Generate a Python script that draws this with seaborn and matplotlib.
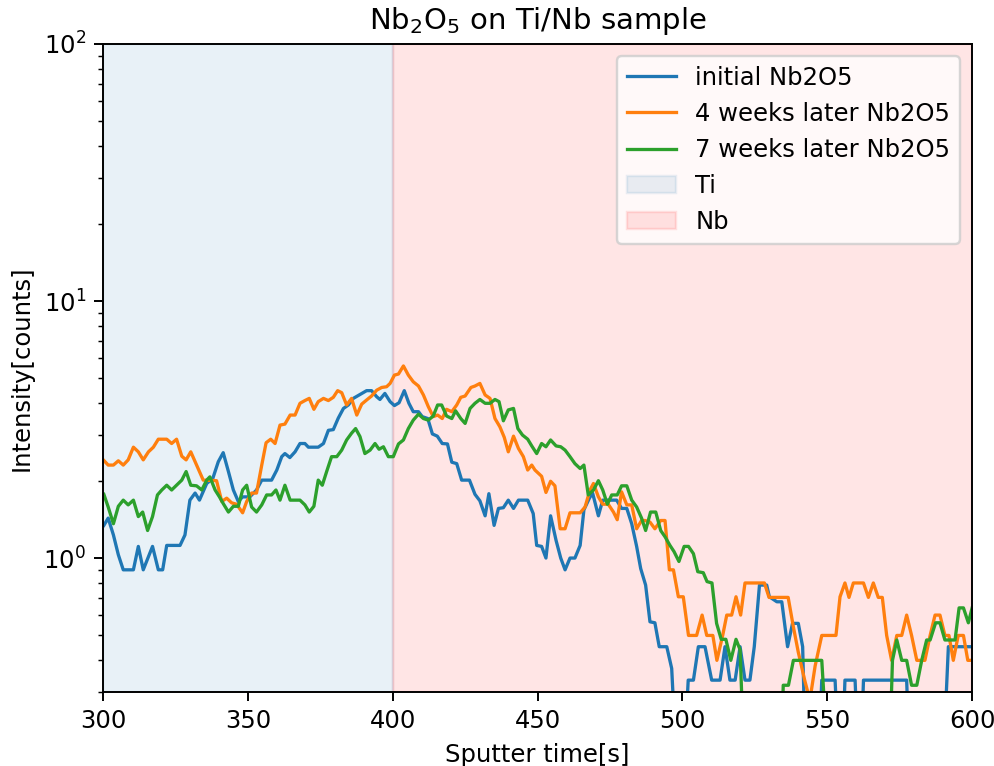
import numpy as np
import pandas as pd
import matplotlib
matplotlib.use("Agg")
import matplotlib.pyplot as plt
import seaborn as sns

# ---------------- data ----------------
series_names = ["initial Nb2O5", "4 weeks later Nb2O5", "7 weeks later Nb2O5"]
region_labels = ["Ti", "Nb"]
region_edges = [300, 400, 600]

initial_t = [300.3, 301.8, 303.6, 305.3, 307.0, 310.5, 312.2, 313.9, 317.1, 319.1, 320.6, 322.0,
             326.6, 328.3, 330.0, 331.8, 333.3, 335.8, 337.9, 339.8, 341.5, 343.3, 345.0, 346.7,
             348.2, 350.7, 353.0, 354.8, 358.2, 360.0, 361.7, 362.8, 364.5, 366.3, 368.0, 369.7,
             370.9, 374.3, 376.1, 377.8, 379.5, 381.2, 383.0, 384.7, 386.4, 391.0, 392.7, 394.5,
             395.6, 397.3, 399.1, 400.6, 402.2, 404.0, 405.6, 407.1, 408.9, 410.2, 412.1, 413.7,
             415.4, 417.1, 418.9, 420.4, 422.1, 423.8, 426.5, 428.4, 430.1, 431.9, 433.2, 435.0,
             436.5, 438.2, 439.9, 441.7, 443.4, 446.6, 448.5, 449.7, 451.4, 452.9, 454.5, 456.4,
             458.0, 459.5, 461.2, 462.9, 464.7, 466.0, 467.9, 469.0, 471.0, 472.5, 477.3, 479.0,
             480.8, 482.5, 484.2, 485.6, 487.3, 488.8, 490.5, 492.0, 494.6, 496.3, 497.5, 501.0,
             502.0, 503.8, 505.5, 507.8, 510.1, 513.0, 514.7, 516.4, 518.2, 519.9, 521.6, 523.3,
             524.8, 526.6, 529.1, 530.0, 532.6, 534.3, 536.3, 538.0, 540.0, 541.5, 542.3, 547.3,
             548.1, 552.7, 553.6, 555.4, 556.1, 559.6, 560.4, 561.8, 562.5, 577.4, 578.1, 590.4,
             591.8, 600.0]
initial_v = [1.34, 1.43, 1.23, 1.03, 0.90, 0.90, 1.11, 0.90, 1.11, 0.90, 0.90, 1.12,
             1.12, 1.23, 1.68, 1.79, 1.68, 1.95, 2.04, 2.37, 2.57, 2.17, 1.84, 1.66,
             1.73, 1.73, 1.84, 2.01, 2.01, 2.20, 2.48, 2.55, 2.46, 2.59, 2.79, 2.79,
             2.70, 2.70, 2.79, 3.14, 3.16, 3.50, 3.82, 3.94, 4.18, 4.48, 4.48, 4.24,
             4.14, 4.37, 4.06, 3.92, 4.02, 4.48, 4.00, 3.71, 3.71, 3.55, 3.49, 3.04,
             2.98, 2.79, 2.78, 2.36, 2.33, 2.01, 2.01, 1.77, 1.67, 1.46, 1.78, 1.34,
             1.56, 1.57, 1.68, 1.56, 1.68, 1.68, 1.49, 1.12, 1.11, 1.00, 1.46, 1.17,
             1.00, 0.90, 1.00, 1.00, 1.12, 1.54, 1.71, 1.79, 1.46, 1.68, 1.68, 1.56,
             1.56, 1.36, 1.11, 0.91, 0.785, 0.565, 0.56, 0.452, 0.452, 0.372, 0.2, 0.2,
             0.335, 0.335, 0.452, 0.452, 0.335, 0.335, 0.452, 0.335, 0.335, 0.452, 0.335, 0.335,
             0.452, 0.785, 0.785, 0.707, 0.676, 0.676, 0.452, 0.557, 0.557, 0.452, 0.2, 0.2,
             0.335, 0.335, 0.2, 0.2, 0.335, 0.335, 0.2, 0.2, 0.335, 0.335, 0.2, 0.2,
             0.452, 0.452]

weeks4_t = [300.1, 301.8, 303.6, 305.3, 307.0, 308.7, 310.5, 312.2, 313.9, 315.7, 317.4, 319.1,
            322.0, 323.7, 325.4, 327.2, 328.7, 330.3, 332.3, 334.6, 339.2, 341.0, 342.7, 344.4,
            346.1, 348.2, 349.6, 351.3, 353.0, 354.8, 356.3, 357.9, 359.4, 361.1, 362.8, 364.6,
            366.3, 368.0, 369.7, 371.2, 372.8, 374.3, 376.1, 377.8, 379.5, 381.0, 382.4, 384.1,
            385.8, 387.6, 389.3, 391.0, 392.7, 394.5, 396.2, 397.9, 399.1, 400.6, 402.0, 403.7,
            405.4, 407.1, 408.9, 410.6, 412.3, 414.0, 415.5, 417.1, 418.6, 420.4, 422.1, 423.5,
            425.0, 427.0, 428.4, 430.1, 431.9, 433.6, 435.3, 437.0, 438.5, 439.9, 441.7, 443.4,
            445.1, 446.6, 448.0, 449.1, 451.4, 452.9, 454.5, 456.0, 457.8, 459.5, 461.2, 464.7,
            466.4, 468.1, 469.3, 471.0, 472.5, 474.4, 476.2, 477.5, 479.0, 480.8, 482.5, 484.2,
            485.9, 487.1, 488.8, 490.5, 492.5, 494.0, 495.5, 496.9, 498.6, 500.3, 502.1, 504.9,
            506.8, 508.4, 510.5, 511.9, 513.9, 515.3, 517.0, 518.5, 520.1, 521.6, 528.3, 529.9,
            536.5, 538.3, 540.0, 542.2, 544.0, 545.8, 548.1, 553.0, 554.4, 556.1, 557.5, 559.0,
            562.5, 564.2, 565.9, 567.6, 569.0, 570.5, 572.2, 574.0, 575.7, 577.4, 579.1, 580.9,
            583.7, 585.5, 587.2, 588.9, 590.6, 592.0, 593.5, 595.2, 597.0, 598.5, 600.0]
weeks4_v = [2.41, 2.30, 2.30, 2.39, 2.30, 2.41, 2.70, 2.59, 2.41, 2.59, 2.70, 2.90,
            2.90, 2.79, 2.90, 2.49, 2.41, 2.59, 2.30, 2.01, 2.00, 1.66, 1.71, 1.64,
            1.62, 1.50, 1.66, 1.79, 1.79, 2.30, 2.81, 2.90, 2.79, 3.29, 3.32, 3.60,
            3.60, 4.00, 4.10, 4.18, 3.79, 4.06, 4.18, 4.10, 4.22, 4.48, 4.40, 3.94,
            4.18, 3.60, 3.97, 4.12, 4.27, 4.50, 4.61, 4.64, 4.78, 5.15, 5.20, 5.59,
            5.15, 4.85, 4.67, 4.31, 3.88, 3.55, 3.60, 3.49, 3.79, 3.71, 3.94, 4.22,
            4.27, 4.61, 4.67, 4.78, 4.31, 4.18, 3.49, 3.24, 2.95, 2.59, 2.98, 2.67,
            2.48, 2.20, 2.30, 2.20, 2.08, 1.80, 1.99, 1.91, 1.30, 1.30, 1.50, 1.50,
            1.58, 1.84, 1.95, 1.73, 1.62, 1.62, 1.51, 1.41, 1.81, 1.61, 1.61, 1.30,
            1.40, 1.40, 1.38, 1.30, 1.40, 1.40, 0.90, 0.90, 0.707, 0.707, 0.50, 0.50,
            0.60, 0.50, 0.50, 0.40, 0.50, 0.60, 0.60, 0.707, 0.60, 0.80, 0.80, 0.703,
            0.703, 0.54, 0.43, 0.335, 0.28, 0.38, 0.50, 0.50, 0.707, 0.80, 0.703, 0.80,
            0.80, 0.703, 0.80, 0.703, 0.703, 0.50, 0.40, 0.50, 0.50, 0.60, 0.50, 0.40,
            0.40, 0.50, 0.60, 0.60, 0.50, 0.50, 0.40, 0.50, 0.50, 0.40, 0.40]

weeks7_t = [300.3, 301.8, 303.6, 305.3, 307.0, 308.7, 310.5, 312.2, 313.7, 315.4, 317.1, 318.8,
            320.3, 322.0, 323.7, 325.4, 327.2, 328.7, 330.3, 332.3, 334.1, 335.8, 336.9, 338.7,
            340.2, 341.5, 343.3, 345.0, 346.7, 348.2, 349.6, 351.3, 353.0, 354.8, 356.5, 358.2,
            359.7, 361.1, 362.8, 364.6, 368.0, 369.7, 371.2, 372.8, 374.3, 375.7, 377.2, 378.9,
            380.7, 382.4, 384.1, 385.8, 387.2, 388.7, 390.4, 392.2, 393.9, 395.3, 396.8, 398.5,
            400.2, 402.0, 403.7, 405.4, 407.1, 408.9, 410.6, 412.3, 414.0, 415.5, 416.9, 418.6,
            420.4, 421.7, 423.5, 425.0, 426.7, 428.4, 430.1, 431.9, 433.6, 435.3, 436.7, 438.2,
            439.9, 441.7, 443.2, 444.8, 446.6, 448.0, 449.7, 451.4, 452.9, 454.5, 456.4, 458.0,
            459.5, 461.2, 462.9, 464.7, 466.0, 467.5, 469.3, 471.0, 472.5, 474.1, 475.6, 477.5,
            479.0, 480.8, 482.5, 484.2, 485.9, 487.3, 489.0, 490.8, 492.5, 494.0, 495.7, 497.1,
            498.8, 500.6, 502.1, 503.8, 505.3, 507.2, 508.5, 510.2, 511.8, 513.4, 515.0, 516.7,
            518.5, 519.9, 521.0, 534.3, 534.8, 536.6, 538.3, 548.1, 549.7, 571.7, 572.5, 574.0,
            575.7, 577.4, 579.1, 580.9, 582.6, 584.3, 585.5, 587.4, 588.9, 590.6, 594.1, 595.5,
            597.0, 598.7, 600.0]
weeks7_v = [1.77, 1.58, 1.36, 1.59, 1.68, 1.61, 1.68, 1.45, 1.51, 1.28, 1.45, 1.76,
            1.84, 1.92, 1.84, 1.92, 2.01, 2.17, 1.92, 1.91, 1.84, 2.01, 2.07, 1.84,
            1.73, 1.63, 1.51, 1.59, 1.59, 1.84, 1.92, 1.58, 1.51, 1.61, 1.76, 1.76,
            1.84, 1.68, 1.92, 1.68, 1.68, 1.61, 1.51, 1.59, 2.01, 1.92, 2.17, 2.48,
            2.48, 2.63, 2.88, 3.06, 3.19, 2.97, 2.55, 2.63, 2.79, 2.65, 2.71, 2.48,
            2.48, 2.78, 2.88, 3.19, 3.44, 3.63, 3.49, 3.44, 3.57, 3.94, 3.94, 3.57,
            3.49, 3.74, 3.49, 3.34, 3.82, 4.00, 4.14, 4.00, 4.00, 4.14, 4.06, 3.42,
            3.77, 3.82, 3.19, 3.01, 2.90, 2.73, 2.55, 2.79, 2.71, 2.88, 2.73, 2.71,
            2.63, 2.48, 2.33, 2.23, 2.30, 1.76, 1.84, 2.00, 1.84, 1.62, 1.76, 1.76,
            1.91, 1.91, 1.68, 1.58, 1.43, 1.28, 1.51, 1.51, 1.28, 1.21, 1.12, 1.06,
            0.97, 1.11, 1.11, 1.04, 0.885, 0.877, 0.81, 0.80, 0.557, 0.483, 0.483, 0.40,
            0.483, 0.44, 0.2, 0.2, 0.32, 0.32, 0.40, 0.40, 0.2, 0.2, 0.40, 0.48,
            0.40, 0.40, 0.32, 0.32, 0.40, 0.48, 0.48, 0.56, 0.56, 0.48, 0.48, 0.64,
            0.64, 0.56, 0.64]

colors = ["#1f77b4", "#ff7f0e", "#2ca02c"]

# ---------------- build table ----------------
frames = []
for name, t, v in zip(series_names,
                      [initial_t, weeks4_t, weeks7_t],
                      [initial_v, weeks4_v, weeks7_v]):
    frames.append(pd.DataFrame({"time": t, "intensity": v, "series": name}))
df = pd.concat(frames, ignore_index=True)

# ---------------- figure ----------------
DPI = 175
fig = plt.figure(figsize=(994 / DPI, 766 / DPI), dpi=DPI)
ax = fig.add_axes([0.1036, 0.096, 0.978 - 0.1036, 0.9426 - 0.096])

sns.lineplot(data=df, x="time", y="intensity", hue="series", hue_order=series_names,
             palette=colors, estimator=None, sort=False, linewidth=1.35,
             legend=False, ax=ax)

ax.set_yscale("log")
ax.set_xlim(300, 600)
ax.set_ylim(0.3, 100)

span_ti = ax.axvspan(region_edges[0], region_edges[1], color="tab:blue", alpha=0.1,
                     label=region_labels[0], zorder=0)
span_nb = ax.axvspan(region_edges[1], region_edges[2], color="red", alpha=0.1,
                     label=region_labels[1], zorder=0)

lines = [ln for ln in ax.lines if len(ln.get_xdata()) > 0][:3]
ax.legend(handles=lines + [span_ti, span_nb],
          labels=series_names + region_labels, loc="upper right")

ax.set_title("Nb$_2$O$_5$ on Ti/Nb sample", fontsize=12)
ax.set_xlabel("Sputter time[s]")
ax.set_ylabel("Intensity[counts]")

fig.savefig("out.png", dpi=DPI)
